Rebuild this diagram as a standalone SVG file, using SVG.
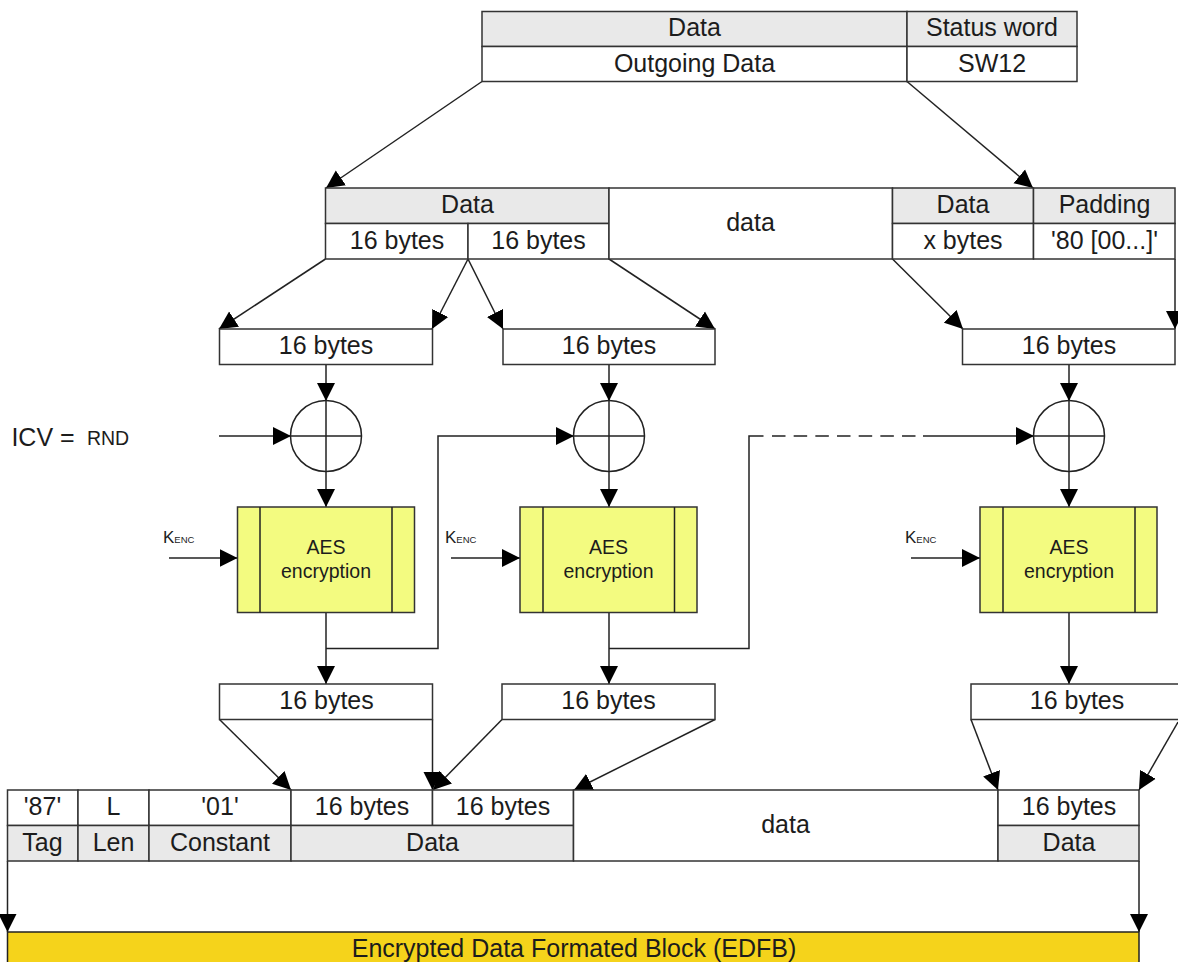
<svg xmlns="http://www.w3.org/2000/svg" width="1178" height="962" viewBox="0 0 1178 962">
<defs>
<marker id="a" markerUnits="userSpaceOnUse" markerWidth="19" markerHeight="19" refX="18" refY="9.500" orient="auto"><path d="M0 0.500L18 9.500L0 18.500z" fill="#000"/></marker>
</defs>
<style>
text{font-family:"Liberation Sans",Arial,sans-serif;font-size:25px;fill:#1c1c1c;text-anchor:middle}
.c{fill:#fff;stroke:#333;stroke-width:1.5}
.g{fill:#e9e9e9;stroke:#333;stroke-width:1.5}
.y{fill:#f3fb80;stroke:#333;stroke-width:1.5}
.o{fill:#f5d31b;stroke:#222;stroke-width:1.5}
.n{fill:none;stroke:#222;stroke-width:1.5}
.l{fill:none;stroke:#222;stroke-width:1.5;marker-end:url(#a)}
text.s{font-size:19.500px}
text.k{font-size:17px;text-anchor:start}
tspan.e{font-size:9.500px}
</style>
<rect width="1178" height="962" fill="#fff"/>
<g id="connectors">
<path class="l" d="M482 81.500L326 188"/>
<path class="l" d="M907 81.500L1033 188"/>
<path class="l" d="M325.500 259L219 329"/>
<path class="l" d="M468 259L432 329"/>
<path class="l" d="M468 259L503 329"/>
<path class="l" d="M609 259L715 329"/>
<path class="l" d="M892.500 259L963 329"/>
<path class="l" d="M1175 259V329"/>
<path class="l" d="M326 364.500V401"/>
<path class="l" d="M609 364.500V401"/>
<path class="l" d="M1069 364.500V401"/>
<path class="l" d="M219 436H291"/>
<path class="l" d="M326 471.500V507"/>
<path class="l" d="M609 471.500V507"/>
<path class="l" d="M1069 471.500V507"/>
<path class="l" d="M169 558H237.500"/>
<path class="l" d="M451 558H520"/>
<path class="l" d="M911 558H980"/>
<path class="l" d="M326 612.500V684"/>
<path class="l" d="M609 612.500V684"/>
<path class="l" d="M1069 612.500V684"/>
<path class="l" d="M326 648.500H438V436H574"/>
<path class="n" d="M609 648.500H749V436H763.500"/>
<path class="n" d="M772 436H915.500" stroke-dasharray="13.500 8.170"/>
<path class="l" d="M923 436H1034"/>
<path class="l" d="M219.500 719.500L291 790"/>
<path class="l" d="M432.500 719.500V790"/>
<path class="l" d="M502 719.500L433 790"/>
<path class="l" d="M715 719.500L574 790"/>
<path class="l" d="M971 719.500L998 790"/>
<path class="l" d="M1178 722L1139 790"/>
<path class="l" d="M7.500 861V932"/>
<path class="l" d="M1139 861V932"/>
</g>
<g id="top-table">
<rect class="g" x="482" y="11.500" width="425" height="35"/>
<rect class="g" x="907" y="11.500" width="170" height="35"/>
<rect class="c" x="482" y="46.500" width="425" height="35"/>
<rect class="c" x="907" y="46.500" width="170" height="35"/>
<text x="694.500" y="36">Data</text>
<text x="992" y="36">Status word</text>
<text x="694.500" y="72">Outgoing Data</text>
<text x="992" y="72">SW12</text>
</g>
<g id="middle-table">
<rect class="g" x="325.500" y="188" width="283.500" height="35.500"/>
<rect class="c" x="325.500" y="223.500" width="142.500" height="35.500"/>
<rect class="c" x="468" y="223.500" width="141" height="35.500"/>
<rect class="c" x="609" y="188" width="283.500" height="71"/>
<rect class="g" x="892.500" y="188" width="141" height="35.500"/>
<rect class="g" x="1033.500" y="188" width="141.500" height="35.500"/>
<rect class="c" x="892.500" y="223.500" width="141" height="35.500"/>
<rect class="c" x="1033.500" y="223.500" width="141.500" height="35.500"/>
<text x="467.500" y="213">Data</text>
<text x="397" y="249">16 bytes</text>
<text x="538.500" y="249">16 bytes</text>
<text x="750.500" y="231">data</text>
<text x="963" y="213">Data</text>
<text x="1104.500" y="213">Padding</text>
<text x="963" y="249">x bytes</text>
<text x="1104.500" y="249">'80 [00...]'</text>
</g>
<g id="input-1"><rect class="c" x="219.500" y="329" width="213" height="35.500"/><text x="326" y="354">16 bytes</text></g>
<g id="input-2"><rect class="c" x="503" y="329" width="212" height="35.500"/><text x="609" y="354">16 bytes</text></g>
<g id="input-3"><rect class="c" x="962.500" y="329" width="212.500" height="35.500"/><text x="1069" y="354">16 bytes</text></g>
<g id="icv"><text x="43" y="446">ICV =</text><text x="108" y="444.500" class="s">RND</text></g>
<g id="xor-1"><circle class="n" cx="326" cy="436" r="35.500"/><path class="n" d="M290.500 436H361.500M326 400.500V471.500"/></g>
<g id="xor-2"><circle class="n" cx="609" cy="436" r="35.500"/><path class="n" d="M573.500 436H644.500M609 400.500V471.500"/></g>
<g id="xor-3"><circle class="n" cx="1069" cy="436" r="35.500"/><path class="n" d="M1033.500 436H1104.500M1069 400.500V471.500"/></g>
<g id="aes-1"><rect class="y" x="237.500" y="507" width="177" height="105.500"/><path class="n" d="M260 507V612.500M392 507V612.500"/><text class="s" x="326" y="554">AES</text><text class="s" x="326" y="578">encryption</text></g>
<g id="aes-2"><rect class="y" x="520" y="507" width="177" height="105.500"/><path class="n" d="M543 507V612.500M674.500 507V612.500"/><text class="s" x="608.500" y="554">AES</text><text class="s" x="608.500" y="578">encryption</text></g>
<g id="aes-3"><rect class="y" x="980" y="507" width="177" height="105.500"/><path class="n" d="M1003 507V612.500M1135 507V612.500"/><text class="s" x="1069" y="554">AES</text><text class="s" x="1069" y="578">encryption</text></g>
<g id="key-1"><text class="k" x="163" y="543">K<tspan class="e">ENC</tspan></text></g>
<g id="key-2"><text class="k" x="445" y="543">K<tspan class="e">ENC</tspan></text></g>
<g id="key-3"><text class="k" x="905" y="543">K<tspan class="e">ENC</tspan></text></g>
<g id="output-1"><rect class="c" x="219.500" y="684" width="213" height="35.500"/><text x="326.500" y="709">16 bytes</text></g>
<g id="output-2"><rect class="c" x="502" y="684" width="213" height="35.500"/><text x="608.500" y="709">16 bytes</text></g>
<g id="output-3"><rect class="c" x="971" y="684" width="212" height="35.500"/><text x="1077" y="709">16 bytes</text></g>
<g id="bottom-table">
<rect class="c" x="7.500" y="790" width="70.500" height="35.500"/>
<rect class="c" x="78" y="790" width="71" height="35.500"/>
<rect class="c" x="149" y="790" width="142" height="35.500"/>
<rect class="c" x="291" y="790" width="141.500" height="35.500"/>
<rect class="c" x="432.500" y="790" width="141" height="35.500"/>
<rect class="g" x="7.500" y="825.500" width="70.500" height="35.500"/>
<rect class="g" x="78" y="825.500" width="71" height="35.500"/>
<rect class="g" x="149" y="825.500" width="142" height="35.500"/>
<rect class="g" x="291" y="825.500" width="282.500" height="35.500"/>
<rect class="c" x="573.500" y="790" width="424.500" height="71"/>
<rect class="c" x="998" y="790" width="141" height="35.500"/>
<rect class="g" x="998" y="825.500" width="141" height="35.500"/>
<text x="42.500" y="815">'87'</text>
<text x="113.500" y="815">L</text>
<text x="220" y="815">'01'</text>
<text x="362" y="815">16 bytes</text>
<text x="503" y="815">16 bytes</text>
<text x="42.500" y="851">Tag</text>
<text x="113.500" y="851">Len</text>
<text x="220" y="851">Constant</text>
<text x="432.500" y="851">Data</text>
<text x="785.500" y="833">data</text>
<text x="1069" y="815">16 bytes</text>
<text x="1069" y="851">Data</text>
</g>
<g id="edfb"><rect class="o" x="7.500" y="932" width="1131.500" height="34"/><text x="574" y="957">Encrypted Data Formated Block (EDFB)</text></g>
</svg>
